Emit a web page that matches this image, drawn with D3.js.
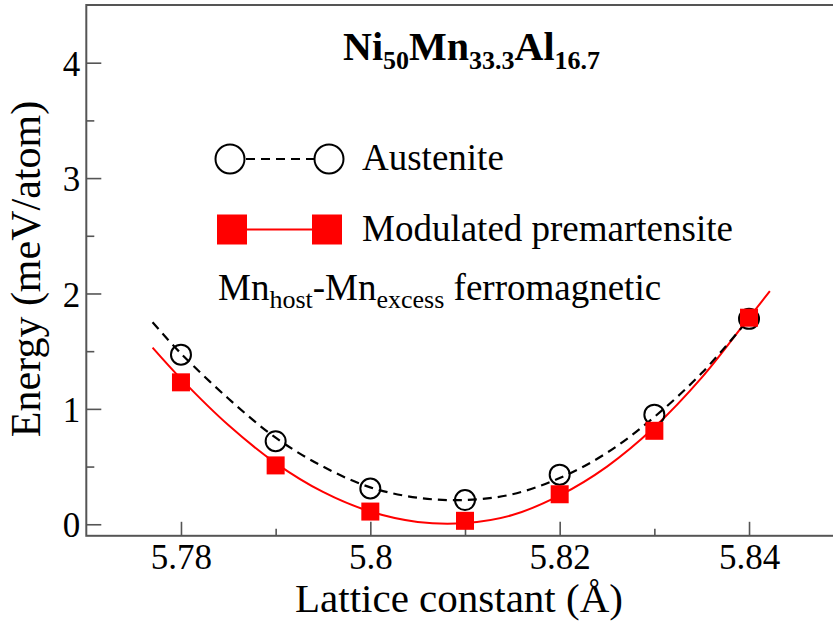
<!DOCTYPE html>
<html>
<head>
<meta charset="utf-8">
<script src="https://cdn.jsdelivr.net/npm/d3@7/dist/d3.min.js"></script>
<style>
  body { margin: 0; background: #fff; }
</style>
</head>
<body>
<svg id="chart" width="833" height="626"></svg>
<script>
// ---- data ----
const latticeConstants = [5.78, 5.79, 5.80, 5.81, 5.82, 5.83, 5.84];
const austeniteEnergy = [1.47, 0.72, 0.31, 0.21, 0.43, 0.95, 1.78];
const premartensiteEnergy = [1.23, 0.51, 0.11, 0.03, 0.26, 0.81, 1.79];

// fitted curves
const austeniteFitX = [5.777, 5.78, 5.785, 5.79, 5.795, 5.80, 5.805, 5.81, 5.815, 5.82, 5.825, 5.83, 5.835, 5.84];
const austeniteFitY = [1.75, 1.48, 1.09, 0.75, 0.50, 0.32, 0.23, 0.21, 0.26, 0.40, 0.62, 0.93, 1.31, 1.78];
const premartensiteFitX = [5.777, 5.78, 5.785, 5.79, 5.795, 5.80, 5.805, 5.81, 5.815, 5.82, 5.825, 5.83, 5.835, 5.84, 5.8422];
const premartensiteFitY = [1.53, 1.26, 0.86, 0.53, 0.28, 0.11, 0.02, 0.01, 0.08, 0.25, 0.50, 0.84, 1.27, 1.79, 2.02];

const xMajorTicks = [5.78, 5.80, 5.82, 5.84];
const xMajorLabels = ["5.78", "5.8", "5.82", "5.84"];
const xMinorTicks = [5.79, 5.81, 5.83];
const yMajorTicks = [0, 1, 2, 3, 4];
const yMajorLabels = ["0", "1", "2", "3", "4"];
const yMinorTicks = [0.5, 1.5, 2.5, 3.5];

const seriesNames = ["Austenite", "Modulated premartensite"];

// ---- layout ----
const FONT = '"Liberation Serif"';
const svg = d3.select("#chart");
const plotLeft = 86.3, plotRight = 843.7, plotTop = 5, plotBottom = 535.8;
const x = d3.scaleLinear().domain([5.77, 5.85]).range([plotLeft, plotRight]);
const y = d3.scaleLinear().domain([-0.1, 4.5]).range([plotBottom, plotTop]);
const axisColor = "#555";

svg.append("rect").attr("width", 833).attr("height", 626).attr("fill", "#fff");

// frame
svg.append("rect")
  .attr("x", plotLeft).attr("y", plotTop)
  .attr("width", plotRight - plotLeft).attr("height", plotBottom - plotTop)
  .attr("fill", "none").attr("stroke", axisColor).attr("stroke-width", 2);

// x axis
const xAxis = d3.axisBottom(x).tickValues(xMajorTicks)
  .tickFormat((d, i) => xMajorLabels[i]).tickSizeInner(-14).tickSizeOuter(0).tickPadding(8);
const gx = svg.append("g").attr("transform", `translate(0,${plotBottom})`).call(xAxis);
const gxm = svg.append("g").attr("transform", `translate(0,${plotBottom})`)
  .call(d3.axisBottom(x).tickValues(xMinorTicks).tickFormat("").tickSizeInner(-7).tickSizeOuter(0));
gxm.selectAll(".tick text").remove();

// y axis
const yAxis = d3.axisLeft(y).tickValues(yMajorTicks)
  .tickFormat((d, i) => yMajorLabels[i]).tickSizeInner(-15).tickSizeOuter(0).tickPadding(6);
const gy = svg.append("g").attr("transform", `translate(${plotLeft},0)`).call(yAxis);
const gym = svg.append("g").attr("transform", `translate(${plotLeft},0)`)
  .call(d3.axisLeft(y).tickValues(yMinorTicks).tickFormat("").tickSizeInner(-8).tickSizeOuter(0));
gym.selectAll(".tick text").remove();

[gx, gxm, gy, gym].forEach(g => {
  g.attr("font-family", null).attr("font-size", null);
  g.select(".domain").remove();
  g.selectAll(".tick line").attr("stroke", axisColor).attr("stroke-width", 1.6);
  g.selectAll(".tick text").attr("fill", "#000")
    .style("font-family", FONT).style("font-size", "35px");
});
gy.selectAll(".tick text").attr("dy", "0.36em");

// axis titles
svg.append("text")
  .attr("x", 459).attr("y", 612)
  .attr("text-anchor", "middle")
  .style("font-family", FONT).style("font-size", "41px")
  .text("Lattice constant (Å)");
svg.append("text")
  .attr("transform", "translate(40,269) rotate(-90)")
  .attr("text-anchor", "middle")
  .style("font-family", FONT).style("font-size", "42px")
  .text("Energy (meV/atom)");

// fitted curves
const austeniteFit = austeniteFitX.map((d, i) => [d, austeniteFitY[i]]);
const premartensiteFit = premartensiteFitX.map((d, i) => [d, premartensiteFitY[i]]);
const line = d3.line().x(d => x(d[0])).y(d => y(d[1])).curve(d3.curveCatmullRom.alpha(0.5));

svg.append("path").datum(premartensiteFit)
  .attr("d", line).attr("fill", "none").attr("stroke", "#ff0000").attr("stroke-width", 2);
svg.append("path").datum(austeniteFit)
  .attr("d", line).attr("fill", "none").attr("stroke", "#000")
  .attr("stroke-width", 2.2).attr("stroke-dasharray", "9,6");

// markers
svg.append("g").selectAll("circle")
  .data(latticeConstants)
  .join("circle")
  .attr("cx", d => x(d))
  .attr("cy", (d, i) => y(austeniteEnergy[i]))
  .attr("r", 10)
  .attr("fill", "none").attr("stroke", "#000").attr("stroke-width", 2);

const sq = 18;
svg.append("g").selectAll("rect")
  .data(latticeConstants)
  .join("rect")
  .attr("x", d => x(d) - sq / 2)
  .attr("y", (d, i) => y(premartensiteEnergy[i]) - sq / 2)
  .attr("width", sq).attr("height", sq)
  .attr("fill", "#ff0000");

// legend
const leg = svg.append("g");
leg.append("line").attr("x1", 244).attr("x2", 315).attr("y1", 159).attr("y2", 159)
  .attr("stroke", "#000").attr("stroke-width", 2.2).attr("stroke-dasharray", "9,6")
  .attr("stroke-dashoffset", -2);
[230, 329].forEach(cx => {
  leg.append("circle").attr("cx", cx).attr("cy", 159).attr("r", 14.5)
    .attr("fill", "#fff").attr("stroke", "#000").attr("stroke-width", 2);
});
leg.append("text").attr("x", 362).attr("y", 170)
  .style("font-family", FONT).style("font-size", "37px").text(seriesNames[0]);

leg.append("line").attr("x1", 240).attr("x2", 320).attr("y1", 229.5).attr("y2", 229.5)
  .attr("stroke", "#ff0000").attr("stroke-width", 2);
[232, 327].forEach(cx => {
  leg.append("rect").attr("x", cx - 15).attr("y", 214.5).attr("width", 30).attr("height", 30)
    .attr("fill", "#ff0000");
});
leg.append("text").attr("x", 362).attr("y", 241)
  .style("font-family", FONT).style("font-size", "37px").text(seriesNames[1]);

// annotation
const ann = svg.append("text").attr("x", 218).attr("y", 300)
  .style("font-family", FONT).style("font-size", "37px");
ann.append("tspan").text("Mn");
ann.append("tspan").attr("dy", 8).style("font-size", "26px").text("host");
ann.append("tspan").attr("dy", -8).text("-Mn");
ann.append("tspan").attr("dy", 8).style("font-size", "26px").text("excess");
ann.append("tspan").attr("dy", -8).text(" ferromagnetic");

// title
const title = svg.append("text").attr("x", 343).attr("y", 60)
  .style("font-family", FONT).style("font-size", "40px").style("font-weight", "bold");
title.append("tspan").text("Ni");
title.append("tspan").attr("dy", 9).style("font-size", "26px").text("50");
title.append("tspan").attr("dy", -9).text("Mn");
title.append("tspan").attr("dy", 9).style("font-size", "26px").text("33.3");
title.append("tspan").attr("dy", -9).text("Al");
title.append("tspan").attr("dy", 9).style("font-size", "26px").text("16.7");
</script>
</body>
</html>
